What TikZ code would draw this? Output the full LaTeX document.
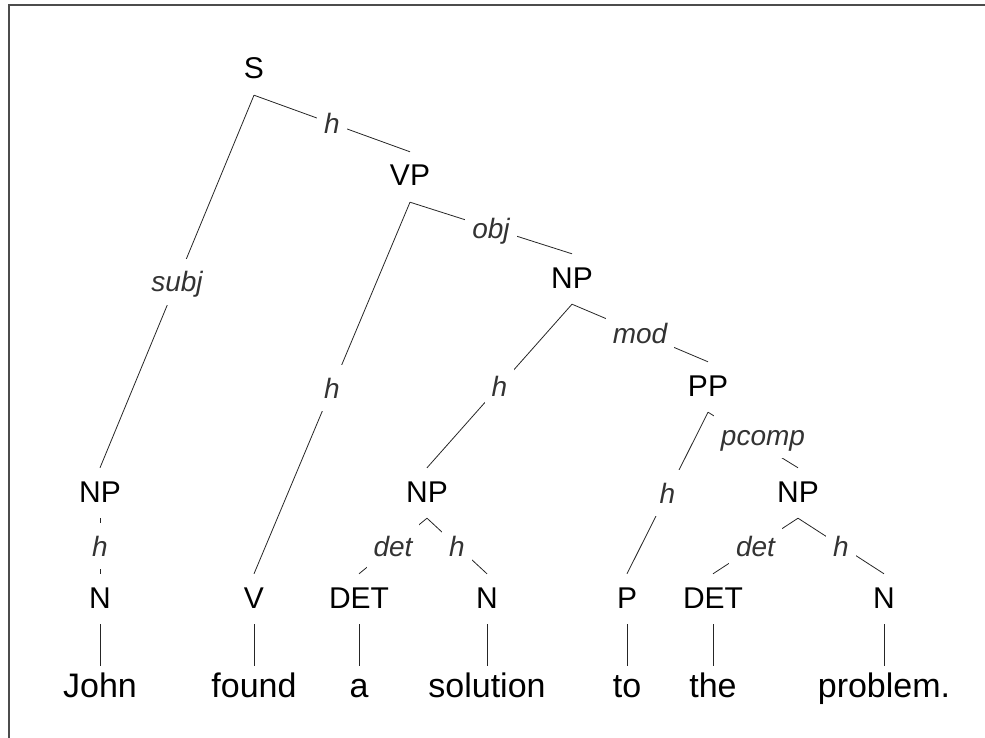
\documentclass[tikz,border=0pt]{standalone}
\usepackage{fontspec}
\setmainfont{Liberation Sans}

\begin{document}
\begin{tikzpicture}[x=1pt, y=-1pt,
    cat/.style={font=\fontsize{30}{36}\selectfont, inner sep=0pt, text height=34pt, text depth=16pt, anchor=base},
    word/.style={font=\fontsize{34}{40}\selectfont, inner sep=0pt, text height=31pt, text depth=0pt, anchor=base},
    rel/.style={font=\fontsize{28}{34}\selectfont\itshape, text=black!80, fill=white, inner xsep=7pt, inner ysep=8pt, text height=25pt, text depth=5pt},
    branch/.style={line width=0.8pt, draw=black!85},
    frame/.style={line width=1.6pt, draw=black!70}]
        \useasboundingbox (0,0) rectangle (985,738);
        \draw[frame] (9,738) -- (9,5) -- (985,5);

        % phrase nodes
        \node[cat] (S) at (254,79) {S};
        \node[cat] (VP) at (410,186) {VP};
        \node[cat] (NPobj) at (572,288) {NP};
        \node[cat] (PP) at (708,396) {PP};
        \node[cat] (NPsubj) at (100,502) {NP};
        \node[cat] (NPsol) at (427,502) {NP};
        \node[cat] (NPprob) at (798,502) {NP};

        % word classes
        \node[cat] (Njohn) at (100,608) {N};
        \node[cat] (V) at (254,608) {V};
        \node[cat] (DETa) at (359,608) {DET};
        \node[cat] (Nsol) at (487,608) {N};
        \node[cat] (P) at (627,608) {P};
        \node[cat] (DETthe) at (713,608) {DET};
        \node[cat] (Nprob) at (884,608) {N};

        % words
        \node[word] (John) at (100,697) {John};
        \node[word] (found) at (254,697) {found};
        \node[word] (a) at (359,697) {a};
        \node[word] (solution) at (487,697) {solution};
        \node[word] (to) at (627,697) {to};
        \node[word] (the) at (713,697) {the};
        \node[word] (problem) at (884,697) {problem.};

        \draw[branch] (S.south) -- node[rel] {subj} (NPsubj.north);
        \draw[branch] (S.south) -- node[rel] {h} (VP.north);
        \draw[branch] (VP.south) -- node[rel] {h} (V.north);
        \draw[branch] (VP.south) -- node[rel] {obj} (NPobj.north);
        \draw[branch] (NPobj.south) -- node[rel] {h} (NPsol.north);
        \draw[branch] (NPobj.south) -- node[rel] {mod} (PP.north);
        \draw[branch] (PP.south) -- node[rel] {h} (P.north);
        \draw[branch] (PP.south) -- node[rel, xshift=10pt, yshift=5pt] {pcomp} (NPprob.north);
        \draw[branch] (NPsubj.south) -- node[rel] {h} (Njohn.north);
        \draw[branch] (NPsol.south) -- node[rel] {det} (DETa.north);
        \draw[branch] (NPsol.south) -- node[rel] {h} (Nsol.north);
        \draw[branch] (NPprob.south) -- node[rel] {det} (DETthe.north);
        \draw[branch] (NPprob.south) -- node[rel] {h} (Nprob.north);

        \draw[branch] (Njohn) -- (John);
        \draw[branch] (V) -- (found);
        \draw[branch] (DETa) -- (a);
        \draw[branch] (Nsol) -- (solution);
        \draw[branch] (P) -- (to);
        \draw[branch] (DETthe) -- (the);
        \draw[branch] (Nprob) -- (problem);
    \end{tikzpicture}
\end{document}
